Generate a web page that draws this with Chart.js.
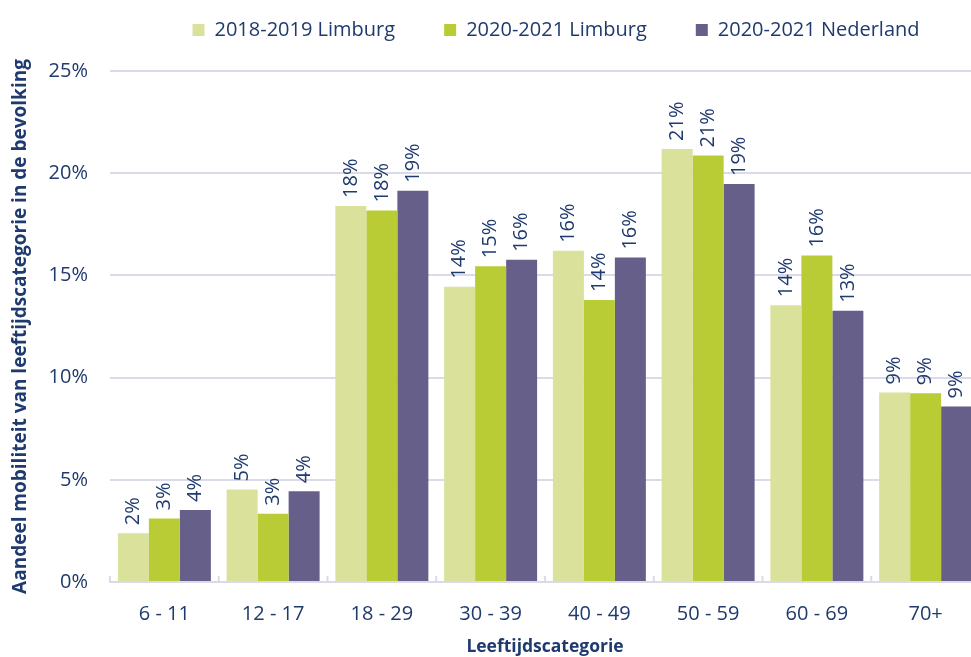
<!DOCTYPE html>
<html>
<head>
<meta charset="utf-8">
<script src="https://cdn.jsdelivr.net/npm/chart.js@4.4.0/dist/chart.umd.min.js"></script>
<style>
  body { margin: 0; overflow: hidden; background: #fff; }
  #wrap { width: 990px; height: 657px; }
</style>
</head>
<body>
<div id="wrap"><canvas id="chartOfMobility"></canvas></div>
<script>
'use strict';

// data (percent)
let categories = ['6 - 11', '12 - 17', '18 - 29', '30 - 39', '40 - 49', '50 - 59', '60 - 69', '70+'];
let limburg2018 = [2.39, 4.53, 18.4, 14.45, 16.2, 21.19, 13.54, 9.27];
let limburg2020 = [3.11, 3.34, 18.18, 15.45, 13.8, 20.86, 15.97, 9.24];
let nederland2020 = [3.52, 4.44, 19.14, 15.76, 15.87, 19.47, 13.27, 8.59];
let yTicks = [0, 5, 10, 15, 20, 25];

let navy = '#1f3a6e';
let gridColor = '#dadae8';
let fontFamily = '"Open Sans", sans-serif';

let ctx = document.getElementById('chartOfMobility');

// rotated value labels above each bar
let barLabels = {
  id: 'barLabels',
  afterDatasetsDraw(chart) {
    let c = chart.ctx;
    c.save();
    c.font = '20px ' + fontFamily;
    c.fillStyle = navy;
    c.textAlign = 'left';
    c.textBaseline = 'middle';
    chart.data.datasets.forEach((ds, i) => {
      chart.getDatasetMeta(i).data.forEach((bar, j) => {
        c.save();
        c.translate(bar.x, bar.y - 8);
        c.rotate(-Math.PI / 2);
        c.fillText(Math.round(ds.data[j]) + '%', 0, 0);
        c.restore();
      });
    });
    c.restore();
  }
};

// small tick marks between categories, pointing up into the plot
let innerTicks = {
  id: 'innerTicks',
  afterDraw(chart) {
    let x = chart.scales.x;
    let c = chart.ctx;
    c.save();
    c.strokeStyle = gridColor;
    c.lineWidth = 2;
    for (let i = 0; i <= categories.length; i++) {
      let px = x.getPixelForValue(i - 0.5);
      c.beginPath();
      c.moveTo(px, x.top);
      c.lineTo(px, x.top - 6);
      c.stroke();
    }
    c.restore();
  }
};

// nudge the legend up/right like the original
let legendShift = {
  id: 'legendShift',
  afterLayout(chart) {
    chart.legend.top -= 21;
    chart.legend.bottom -= 21;
    chart.legend.left += 66;
    chart.legend.right += 66;
  }
};

let chartObject = {
  type: 'bar',
  data: {
    labels: categories,
    datasets: [{
      label: '2018-2019 Limburg',
      data: limburg2018,
      backgroundColor: '#d9e19b',
      borderWidth: 0
    },
    {
      label: '2020-2021 Limburg',
      data: limburg2020,
      backgroundColor: '#b9cb35',
      borderWidth: 0
    },
    {
      label: '2020-2021 Nederland',
      data: nederland2020,
      backgroundColor: '#655f89',
      borderWidth: 0
    }]
  },
  options: {
    responsive: true,
    maintainAspectRatio: false,
    animation: false,
    layout: {
      padding: { top: -8, right: 10, left: 0, bottom: 0 }
    },
    datasets: {
      bar: {
        categoryPercentage: 0.855,
        barPercentage: 1
      }
    },
    scales: {
      x: {
        grid: { display: false },
        border: { color: gridColor, width: 2 },
        ticks: {
          color: navy,
          font: { family: fontFamily, size: 20 },
          padding: 12
        },
        title: {
          display: true,
          text: 'Leeftijdscategorie',
          color: navy,
          font: { family: fontFamily, size: 17.5, weight: 'bold' },
          padding: { top: 0, bottom: -1 }
        },
        afterFit(scale) {
          scale.height = 75;
        }
      },
      y: {
        min: 0,
        max: 25,
        border: { display: false },
        grid: { color: gridColor, lineWidth: 2, drawTicks: false },
        afterBuildTicks(scale) {
          scale.ticks = yTicks.map(v => ({ value: v }));
        },
        ticks: {
          color: navy,
          font: { family: fontFamily, size: 20 },
          padding: 22,
          callback: v => v + '%'
        },
        title: {
          display: true,
          text: 'Aandeel mobiliteit van leeftijdscategorie in de bevolking',
          color: navy,
          font: { family: fontFamily, size: 19, weight: 'bold' },
          padding: { top: 9, bottom: 0 }
        },
        afterFit(scale) {
          scale.width = 110;
        }
      }
    },
    plugins: {
      tooltip: { enabled: false },
      legend: {
        position: 'top',
        labels: {
          color: navy,
          font: { family: fontFamily, size: 20 },
          boxWidth: 12,
          boxHeight: 12,
          padding: 49
        }
      }
    }
  },
  plugins: [barLabels, innerTicks, legendShift]
};

const chartOfMobility = new Chart(ctx, chartObject);
</script>
</body>
</html>
